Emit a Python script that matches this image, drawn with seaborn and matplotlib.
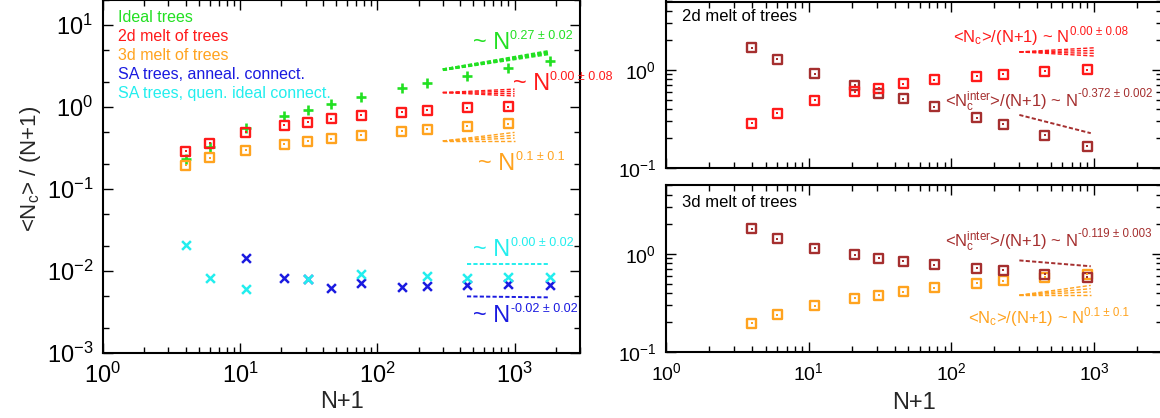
import numpy as np
import matplotlib
matplotlib.use("Agg")
import matplotlib.pyplot as plt
import seaborn as sns
from matplotlib.ticker import LogLocator, NullFormatter

sns.set_style("ticks")
plt.rcParams['font.family'] = ['Liberation Sans', 'DejaVu Sans']
plt.rcParams['mathtext.fontset'] = 'custom'
plt.rcParams['mathtext.rm'] = 'Liberation Sans'
plt.rcParams['mathtext.it'] = 'Liberation Sans:italic'
plt.rcParams['mathtext.bf'] = 'Liberation Sans:bold'
plt.rcParams['mathtext.default'] = 'regular'
plt.rcParams['lines.scale_dashes'] = False

# ---------------- data ----------------
n_ideal = [4, 6, 11, 21, 31, 46, 76, 151, 231, 451, 901, 1801]
ideal_trees = [0.232, 0.325, 0.55, 0.78, 0.93, 1.09, 1.34, 1.72, 1.96, 2.39, 2.97, 3.61]

n_melt = [4, 6, 11, 21, 31, 46, 76, 151, 231, 451, 901]
melt_2d = [0.287, 0.362, 0.49, 0.60, 0.655, 0.72, 0.795, 0.865, 0.91, 0.975, 1.01]
melt_3d = [0.196, 0.240, 0.298, 0.353, 0.381, 0.411, 0.454, 0.505, 0.536, 0.581, 0.625]
inter_2d = [1.68, 1.28, 0.92, 0.70, 0.58, 0.51, 0.42, 0.327, 0.279, 0.217, 0.167]
inter_3d = [1.80, 1.43, 1.14, 0.977, 0.90, 0.84, 0.78, 0.713, 0.686, 0.624, 0.577]

n_quen = [4, 6, 11, 31, 76, 231, 451, 901, 1801]
sa_quen = [0.021, 0.0083, 0.0061, 0.0081, 0.0092, 0.0087, 0.0083, 0.0085, 0.0085]
n_anneal = [11, 21, 31, 46, 76, 151, 231, 451, 901, 1801]
sa_anneal = [0.0146, 0.0083, 0.0080, 0.0062, 0.0072, 0.0064, 0.0066, 0.0067, 0.0069, 0.0067]

legend_labels = ["Ideal trees", "2d melt of trees", "3d melt of trees",
                 "SA trees, anneal. connect.", "SA trees, quen. ideal connect."]

# power-law guide lines: x range, prefactor at start, exponents
fit_ideal_x, fit_ideal_a, fit_ideal_p = [300, 1800], 2.85, [0.25, 0.27, 0.29]
fit_2d_x, fit_2d_a, fit_2d_p = [300, 1000], 1.50, [-0.08, -0.027, 0.027, 0.08]
fit_3d_x, fit_3d_a, fit_3d_p = [300, 1000], 0.385, [0.0, 0.067, 0.133, 0.2]
fit_quen_x, fit_quen_a, fit_quen_p = [450, 1800], 0.0122, [0.0]
fit_ann_x, fit_ann_a, fit_ann_p = [450, 1800], 0.0049, [-0.02]
fitT_2d_x, fitT_2d_a, fitT_2d_p = [300, 1000], 1.53, [-0.08, -0.027, 0.027, 0.08]
fitT_in_x, fitT_in_a, fitT_in_p = [300, 950], 0.348, [-0.372]
fitB_in_x, fitB_in_a, fitB_in_p = [300, 950], 0.86, [-0.119]
fitB_3d_x, fitB_3d_a, fitB_3d_p = [300, 950], 0.38, [0.0, 0.067, 0.133, 0.2]

# ---------------- colours ----------------
GREEN = '#22e022'
RED = '#ff1a1a'
ORANGE = '#ffa31f'
BLUE = '#1a1ae0'
CYAN = '#22eeee'
BROWN = '#a52f2f'

fig = plt.figure(figsize=(11.6, 4.18), dpi=100)
axL = fig.add_axes([103/1160, 65/418, 477/1160, 352.7/418])
axT = fig.add_axes([666/1160, 250/418, 496/1160, 166.5/418])
axB = fig.add_axes([666/1160, 66/418, 496/1160, 166.5/418])


def style(ax, ysubs, lab_size, ylim):
    ax.set_xscale('log')
    ax.set_yscale('log')
    ax.set_xlim(1, 3000)
    ax.set_ylim(*ylim)
    ax.xaxis.set_major_locator(LogLocator(10, subs=(1.0,), numticks=20))
    ax.xaxis.set_minor_locator(LogLocator(10, subs=np.arange(2, 10), numticks=20))
    ax.yaxis.set_major_locator(LogLocator(10, subs=(1.0,), numticks=20))
    ax.yaxis.set_minor_locator(LogLocator(10, subs=ysubs, numticks=20))
    ax.xaxis.set_minor_formatter(NullFormatter())
    ax.yaxis.set_minor_formatter(NullFormatter())
    ax.tick_params(which='both', direction='in', top=True, right=True,
                   width=1.0, color='black', labelsize=lab_size, labelcolor='black', pad=7)
    ax.tick_params(which='major', length=7)
    ax.tick_params(which='minor', length=4)
    for s in ax.spines.values():
        s.set_visible(True)
        s.set_linewidth(1.5)
        s.set_color('black')


style(axL, (2.0, 5.0), 17, (1e-3, 20))
style(axT, np.arange(2, 10), 14, (0.1, 5))
style(axB, np.arange(2, 10), 14, (0.1, 5))
axT.tick_params(labelbottom=False)


def boxes(ax, x, y, color):
    sns.scatterplot(x=x, y=y, ax=ax, marker='s', s=42, fc='none', ec=color,
                    linewidth=1.7, zorder=3)
    sns.scatterplot(x=x, y=y, ax=ax, marker='s', s=3, color=color,
                    linewidth=0, zorder=4)


def fan(ax, xr, a, exps, color, lw):
    xs = np.array(xr, dtype=float)
    for p in exps:
        sns.lineplot(x=xs, y=a * (xs / xs[0]) ** p, ax=ax, color=color, lw=lw,
                     linestyle=(0, (3, 1.6)), zorder=2)


def power_label(ax, x, y, main, sup, color, size_main, size_sup):
    t = ax.text(x, y, main, color=color, fontsize=size_main, ha='left', va='baseline')
    ax.annotate(sup, xy=(1.0, 1.0), xycoords=t, xytext=(0.5, 1.5),
                textcoords='offset points', color=color, fontsize=size_sup,
                ha='left', va='top', annotation_clip=False)


# ---------------- left panel ----------------
sns.scatterplot(x=n_ideal, y=ideal_trees, ax=axL, marker='+', s=60, color=GREEN,
                linewidth=1.9, zorder=3)
boxes(axL, n_melt, melt_2d, RED)
boxes(axL, n_melt, melt_3d, ORANGE)
sns.scatterplot(x=n_anneal, y=sa_anneal, ax=axL, marker='x', s=40, color=BLUE,
                linewidth=1.8, zorder=3)
sns.scatterplot(x=n_quen, y=sa_quen, ax=axL, marker='x', s=40, color=CYAN,
                linewidth=1.8, zorder=3)

fan(axL, fit_ideal_x, fit_ideal_a, fit_ideal_p, GREEN, 2.0)
fan(axL, fit_2d_x, fit_2d_a, fit_2d_p, RED, 1.0)
fan(axL, fit_3d_x, fit_3d_a, fit_3d_p, ORANGE, 1.0)
fan(axL, fit_quen_x, fit_quen_a, fit_quen_p, CYAN, 1.4)
fan(axL, fit_ann_x, fit_ann_a, fit_ann_p, BLUE, 1.4)

power_label(axL, 494, 5.1, "~ N", "0.27 \u00b1 0.02", GREEN, 17, 9)
power_label(axL, 967, 1.61, "~ N", "0.00 \u00b1 0.08", RED, 17, 9)
power_label(axL, 546, 0.17, "~ N", "0.1 \u00b1 0.1", ORANGE, 17, 9)
power_label(axL, 502, 0.0152, "~ N", "0.00 \u00b1 0.02", CYAN, 17, 9)
power_label(axL, 502, 0.00239, "~ N", "-0.02 \u00b1 0.02", BLUE, 17, 9)

leg_colors = [GREEN, RED, ORANGE, BLUE, CYAN]
for i, (lab, c) in enumerate(zip(legend_labels, leg_colors)):
    axL.text(0.031, 0.951 - i * 0.0535, lab, color=c, fontsize=11.5,
             transform=axL.transAxes, ha='left', va='center')

axL.set_xlabel("N+1", fontsize=17, va='top')
axL.xaxis.set_label_coords(0.5, -0.108)
axL.set_ylabel(r"<N$_\mathregular{c}$> / (N+1)", fontsize=16)
axL.yaxis.set_label_coords(-0.126, 0.522)

# ---------------- right top: 2d ----------------
boxes(axT, n_melt, inter_2d, BROWN)
boxes(axT, n_melt, melt_2d, RED)
fan(axT, fitT_2d_x, fitT_2d_a, fitT_2d_p, RED, 1.0)
fan(axT, fitT_in_x, fitT_in_a, fitT_in_p, BROWN, 1.4)
axT.text(0.032, 0.91, "2d melt of trees", color='black', fontsize=12,
         transform=axT.transAxes, ha='left', va='center')
power_label(axT, 103, 1.93, r"<N$_\mathregular{c}$>/(N+1) ~ N", "0.00 \u00b1 0.08", RED, 12, 8.3)
power_label(axT, 90, 0.42, r"<N$_\mathregular{c}^\mathregular{inter}$>/(N+1) ~ N",
            "-0.372 \u00b1 0.002", BROWN, 12, 8.3)
axT.set_xlabel("")
axT.set_ylabel("")

# ---------------- right bottom: 3d ----------------
boxes(axB, n_melt, melt_3d, ORANGE)
boxes(axB, n_melt, inter_3d, BROWN)
fan(axB, fitB_in_x, fitB_in_a, fitB_in_p, BROWN, 1.4)
fan(axB, fitB_3d_x, fitB_3d_a, fitB_3d_p, ORANGE, 1.0)
axB.text(0.032, 0.898, "3d melt of trees", color='black', fontsize=12,
         transform=axB.transAxes, ha='left', va='center')
power_label(axB, 90, 1.18, r"<N$_\mathregular{c}^\mathregular{inter}$>/(N+1) ~ N",
            "-0.119 \u00b1 0.003", BROWN, 12, 8.3)
power_label(axB, 130, 0.198, r"<N$_\mathregular{c}$>/(N+1) ~ N", "0.1 \u00b1 0.1", ORANGE, 12, 8.3)
axB.set_xlabel("N+1", fontsize=17, va='top')
axB.xaxis.set_label_coords(0.5, -0.24)
axB.set_ylabel("")

fig.savefig("out.png", dpi=100)
